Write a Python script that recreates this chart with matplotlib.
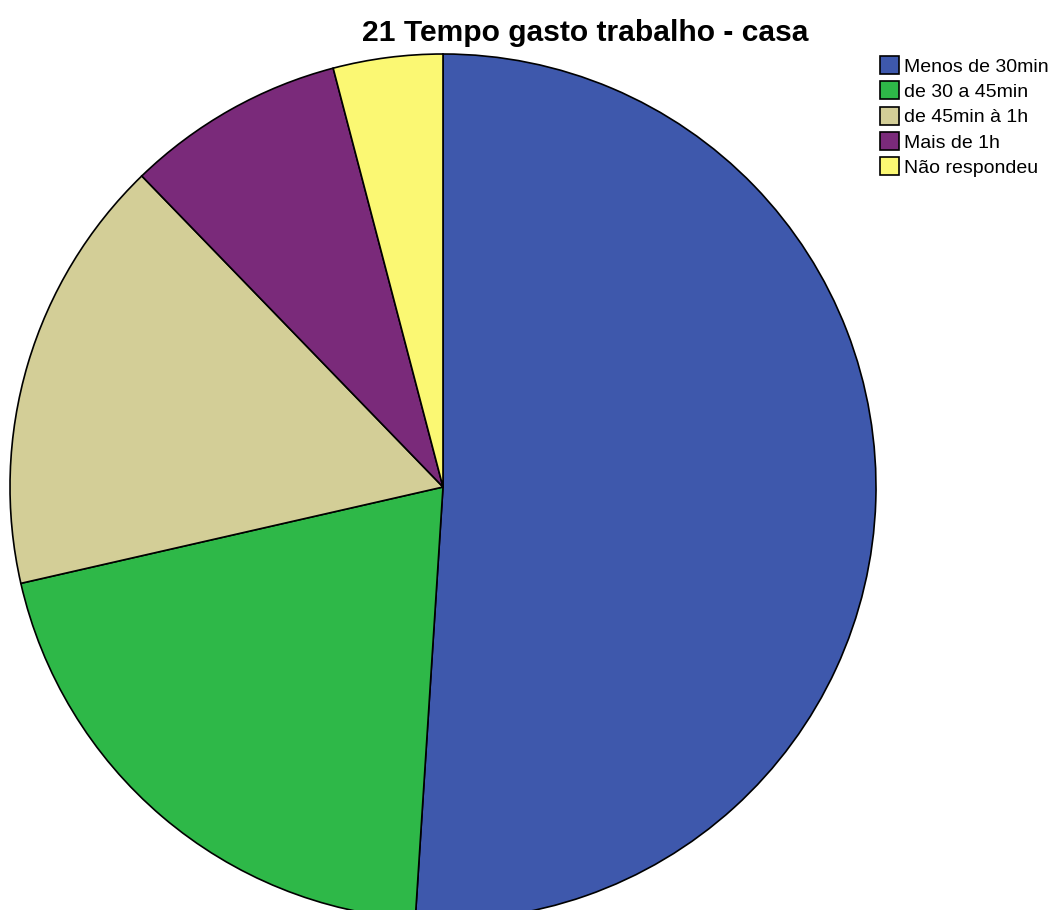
import matplotlib
matplotlib.use("Agg")
import matplotlib.pyplot as plt
from matplotlib.patches import Patch

categories = ["Menos de 30min", "de 30 a 45min", "de 45min à 1h", "Mais de 1h", "Não respondeu"]
counts = [25, 10, 8, 4, 2]
colors = ["#3E58AC", "#2EB848", "#D3CE97", "#7A2A7A", "#FBF873"]

plt.rcParams['font.family'] = ['Liberation Sans', 'DejaVu Sans']

W, H = 1056, 910
fig = plt.figure(figsize=(W/100, H/100), dpi=100)
ax = fig.add_axes([0, 0, 1, 1])
cx, cy, r = 443, 487, 433
ax.pie(counts, colors=colors, startangle=90, counterclock=False,
       wedgeprops=dict(edgecolor="black", linewidth=1.2))
ax.set_aspect('auto')
ax.set_xlim(-cx/r, (W-cx)/r)
ax.set_ylim(-(H-cy)/r, cy/r)
ax.axis('off')

fig.text(585/W, 1-33/H, "21 Tempo gasto trabalho - casa", ha='center', va='center',
         fontsize=21.6, fontweight='bold')

handles = [Patch(facecolor=c, edgecolor='black', linewidth=1.2) for c in colors]
fig.legend(handles, categories, loc='upper left', bbox_to_anchor=(880/W, 1-56/H),
           frameon=False, fontsize=14, handlelength=1.0, handleheight=1.05,
           handletextpad=0.25, labelspacing=0.29, borderaxespad=0, borderpad=0)

fig.savefig("out.png", dpi=100)
